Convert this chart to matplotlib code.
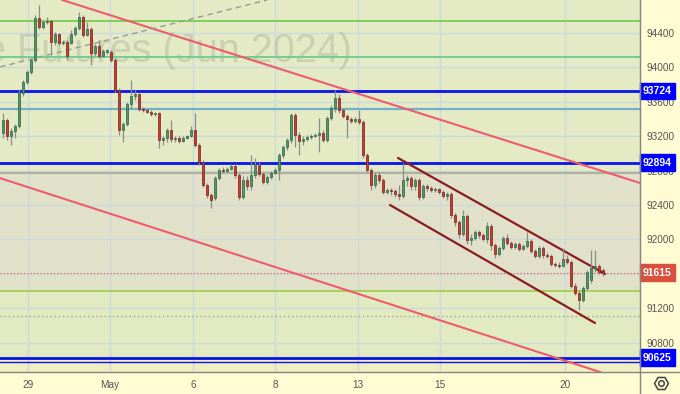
import matplotlib
matplotlib.use("Agg")
import matplotlib.pyplot as plt
from matplotlib.lines import Line2D

# hourly candles, Si futures (Jun 2024)
opens = [93237, 93389, 93203, 93261, 93319, 93703, 93831, 93947, 94086, 94575,
         94470, 94528, 94540, 94296, 94389, 94284, 94296, 94284, 94389, 94458,
         94586, 94377, 94447, 94168, 94249, 94133, 94179, 94179, 94086, 93737,
         93272, 93342, 93575, 93668, 93691, 93517, 93505, 93482, 93458, 93470,
         93156, 93179, 93272, 93168, 93179, 93144, 93179, 93203, 93272, 93098,
         92900, 92633, 92516, 92482, 92714, 92807, 92796, 92819, 92854, 92749,
         92493, 92691, 92621, 92749, 92865, 92761, 92668, 92726, 92772, 92807,
         92982, 93075, 93156, 93447, 93214, 93144, 93168, 93191, 93203, 93214,
         93237, 93156, 93412, 93528, 93644, 93505, 93435, 93400, 93377, 93400,
         93365, 92982, 92807, 92633, 92749, 92691, 92551, 92575, 92563, 92528,
         92505, 92691, 92714, 92621, 92691, 92493, 92621, 92598, 92575, 92586,
         92551, 92505, 92528, 92284, 92203, 92063, 92272, 91993, 92016, 92086,
         92051, 92005, 92156, 91935, 91830, 91900, 92016, 91958, 91912, 91947,
         91889, 91923, 91982, 91865, 91807, 91900, 91819, 91807, 91714, 91703,
         91691, 91772, 91737, 91458, 91377, 91296, 91435, 91528, 91668, 91691,
         91644]
highs = [93470, 93412, 93296, 93342, 93737, 93854, 93970, 94110, 94610, 94726,
         94551, 94586, 94551, 94412, 94400, 94319, 94319, 94435, 94482, 94644,
         94610, 94528, 94470, 94272, 94319, 94214, 94214, 94203, 94110, 93761,
         93365, 93598, 93854, 93737, 93714, 93540, 93517, 93505, 93482, 93482,
         93203, 93296, 93389, 93203, 93203, 93203, 93214, 93319, 93470, 93121,
         92924, 92656, 92540, 92738, 92830, 92842, 92842, 92877, 92877, 92772,
         92738, 92738, 92982, 92947, 92900, 92784, 92749, 92796, 92830, 93005,
         93098, 93179, 93470, 93470, 93249, 93203, 93214, 93226, 93237, 93412,
         93272, 93435, 93563, 93737, 93691, 93528, 93458, 93424, 93424, 93505,
         93389, 93005, 92830, 92784, 92784, 92714, 92598, 92598, 92586, 92633,
         92888, 92749, 92738, 92714, 92714, 92644, 92644, 92621, 92610, 92598,
         92575, 92551, 92551, 92307, 92226, 92342, 92296, 92063, 92109, 92109,
         92075, 92203, 92179, 91958, 91923, 92040, 92063, 91982, 91970, 91970,
         91947, 92086, 92005, 91889, 91923, 91923, 91854, 91830, 91737, 91737,
         91900, 91819, 91761, 91493, 91412, 91458, 91644, 91877, 91877, 91714,
         91668]
lows = [93179, 93156, 93098, 93179, 93296, 93668, 93807, 93924, 94063, 94447,
        94447, 94505, 94144, 94261, 94261, 94261, 94086, 94272, 94365, 94435,
        94354, 94365, 94028, 94133, 94110, 94121, 94156, 94063, 93714, 93214,
        93133, 93319, 93528, 93621, 93493, 93482, 93470, 93435, 93435, 93063,
        93098, 93133, 93133, 93133, 93121, 93133, 93168, 93191, 93075, 92865,
        92610, 92482, 92365, 92458, 92691, 92772, 92784, 92807, 92714, 92458,
        92470, 92575, 92575, 92714, 92738, 92644, 92644, 92703, 92761, 92691,
        92947, 93040, 93121, 93075, 92982, 93098, 93144, 93168, 93191, 93016,
        93133, 93133, 93389, 93482, 93470, 93412, 93179, 93354, 93354, 93342,
        92947, 92784, 92575, 92598, 92656, 92528, 92528, 92516, 92493, 92458,
        92482, 92621, 92575, 92575, 92458, 92470, 92563, 92551, 92551, 92528,
        92482, 92458, 92249, 92156, 92016, 92040, 91947, 91935, 91993, 92016,
        91982, 91958, 91877, 91784, 91807, 91877, 91935, 91889, 91889, 91865,
        91877, 91900, 91842, 91784, 91784, 91784, 91784, 91691, 91679, 91668,
        91679, 91714, 91435, 91354, 91179, 91272, 91412, 91493, 91621, 91598,
        91575]
closes = [93389, 93203, 93261, 93319, 93703, 93831, 93947, 94086, 94575, 94470,
          94528, 94540, 94296, 94389, 94284, 94296, 94133, 94389, 94458, 94586,
          94377, 94447, 94168, 94249, 94133, 94191, 94203, 94086, 93737, 93272,
          93342, 93575, 93668, 93691, 93517, 93505, 93482, 93458, 93470, 93156,
          93179, 93272, 93168, 93179, 93144, 93179, 93203, 93272, 93098, 92900,
          92633, 92516, 92458, 92714, 92807, 92796, 92819, 92854, 92749, 92493,
          92691, 92621, 92749, 92865, 92761, 92668, 92726, 92772, 92807, 92982,
          93075, 93156, 93447, 93214, 93144, 93168, 93191, 93203, 93214, 93237,
          93156, 93412, 93528, 93644, 93505, 93435, 93400, 93377, 93400, 93365,
          92982, 92807, 92633, 92749, 92691, 92551, 92575, 92563, 92528, 92505,
          92691, 92714, 92621, 92691, 92493, 92621, 92598, 92575, 92586, 92551,
          92505, 92528, 92284, 92203, 92063, 92272, 91993, 92016, 92086, 92051,
          92005, 92156, 91935, 91830, 91900, 92016, 91958, 91912, 91947, 91889,
          91923, 91982, 91865, 91807, 91900, 91819, 91807, 91714, 91703, 91691,
          91772, 91737, 91458, 91377, 91296, 91435, 91621, 91668, 91691, 91621,
          91615]

# x axis (candle index of each day start)
day_ticks = [6.25, 26.75, 47.5, 68, 88.75, 109.25, 140.5]
day_labels = ['29', 'May', '6', '8', '13', '15', '20']
grid_prices = [90800, 91200, 91600, 92000, 92400, 92800, 93200, 93600, 94000, 94400]
price_ticks = [90800, 91200, 92000, 92400, 92800, 93200, 93600, 94000, 94400]  # 91600 sits under the last-price tag

# levels
blue_levels = [93724, 92894, 90625]
blue_thin = 90571
green_levels = [(94540, '#7acc55'), (94121, '#6ccc90'), (91403, '#a2cc55')]
teal_level = 93520
gray_level = 92772
gray_dotted = 91113
last_price = 91615

# trend lines as two (index, price) points each
pink_upper = [(84.25, 93761), (159.25, 92656)]
pink_lower = [(84.25, 91435), (149.25, 90458)]
chan_upper = [(98.75, 92947), (150.5, 91598)]
chan_lower = [(96.75, 92400), (148.0, 91028)]
dashed_gray = [(-0.75, 94005), (66.0, 94784)]

W, H = 680, 394
fig = plt.figure(figsize=(W / 100, H / 100), dpi=100, facecolor='#fffbd2')
ax = fig.add_axes([0, 22 / H, 640 / W, 372 / H])
ax.set_xlim(-0.75, 159.25)
ax.set_ylim(90458, 94784)

# background zones
ax.axhspan(gray_level, 95000, color='#e3eac4', zorder=0, lw=0)
ax.axhspan(green_levels[2][0], gray_level, color='#e1e1c9', zorder=0, lw=0)
ax.axhspan(blue_levels[2], green_levels[2][0], color='#e2eac1', zorder=0, lw=0)
ax.axhspan(90000, blue_levels[2], color='#f1efc0', zorder=0, lw=0)

for p in grid_prices:
    ax.axhline(p, color='#cdd9dc', lw=1, zorder=1)
for d in day_ticks:
    ax.axvline(d, color='#cdd9dc', lw=1, zorder=1)

ax.text(-16 / 640, (372 - 62) / 372, 'e Futures (Jun 2024)', transform=ax.transAxes,
        fontsize=28.5, family='Liberation Sans', color='#a8ad98', alpha=0.42,
        va='baseline', ha='left', zorder=1.5, clip_on=True)

for p, c in green_levels:
    ax.axhline(p, color=c, lw=1.3, zorder=2)
ax.axhline(teal_level, color='#70b0c8', lw=1.6, zorder=2)
ax.axhline(gray_level, color='#b0b0a0', lw=1.6, zorder=2)
ax.axhline(gray_dotted, color='#a0a0a0', lw=1, ls=(0, (1, 2)), zorder=2)
ax.axhline(last_price, color='#d84848', lw=0.8, ls=(0, (1, 2)), zorder=2)
for p in blue_levels:
    ax.axhline(p, color='#0a14e6', lw=2, zorder=2)
ax.axhline(blue_thin, color='#0a14e6', lw=1, zorder=2)

ax.axline(*pink_upper, color='#ec5c6c', lw=1.5, zorder=3)
ax.axline(*pink_lower, color='#ec5c6c', lw=1.5, zorder=3)
ax.axline(*dashed_gray, color='#999999', lw=1, ls=(0, (4, 3)), zorder=3)
for a, b in (chan_upper, chan_lower):
    ax.plot([a[0], b[0]], [a[1], b[1]], color='#8a1c20', lw=1.6, zorder=3,
            solid_capstyle='round')

# candles
xs = list(range(len(closes)))
for i in xs:
    o, h, l, c = opens[i], highs[i], lows[i], closes[i]
    up = c >= o
    ax.vlines(i, l, h, color='#8c8c8c', lw=0.9, zorder=4)
    body_lo = min(o, c)
    body_h = max(abs(c - o), 12)
    ax.bar(i, body_h, bottom=body_lo, width=0.72,
           color='#4f9a6c' if up else '#c83e2c',
           edgecolor='#2f5f40' if up else '#7a1c1c', linewidth=0.5, zorder=5)

# axes/ticks
for s in ax.spines.values():
    s.set_visible(False)
ax.yaxis.tick_right()
ax.set_yticks(price_ticks)
ax.set_yticklabels([str(p) for p in price_ticks])
ax.set_xticks(day_ticks)
ax.set_xticklabels(day_labels)
ax.tick_params(axis='both', length=0, colors='#555555', labelsize=7.2)
ax.tick_params(axis='y', pad=5)
ax.tick_params(axis='x', pad=6)
for lab in ax.get_xticklabels() + ax.get_yticklabels():
    lab.set_family('Liberation Sans')

# price tags on the right
tag_levels = blue_levels + [last_price]
tag_colors = ['#0000ff', '#0000ff', '#0000ff', '#d9503f']
for p, col in zip(tag_levels, tag_colors):
    ax.annotate(str(p), xy=(1.0, p), xycoords=('axes fraction', 'data'),
                xytext=(2.2, 0), textcoords='offset points', ha='left', va='center',
                fontsize=7.5, fontweight='bold', color='white', family='Liberation Sans',
                annotation_clip=False, zorder=10,
                bbox=dict(boxstyle='square,pad=0.32', fc=col, ec=col))

# pane separators
fig.add_artist(Line2D([640 / W, 640 / W], [0, 1], color='#858585', lw=1,
                      transform=fig.transFigure))
fig.add_artist(Line2D([0, 1], [22 / H, 22 / H], color='#858585', lw=1,
                      transform=fig.transFigure))

# settings icon
gx, gy = 661 / W, 11 / H
fig.add_artist(Line2D([gx], [gy], marker='H', markersize=10, mfc='none', mec='#444444',
                      mew=1.1, transform=fig.transFigure))
fig.add_artist(Line2D([gx], [gy], marker='o', markersize=4, mfc='none', mec='#444444',
                      mew=1.1, transform=fig.transFigure))

fig.savefig('out.png', dpi=100, facecolor=fig.get_facecolor())
